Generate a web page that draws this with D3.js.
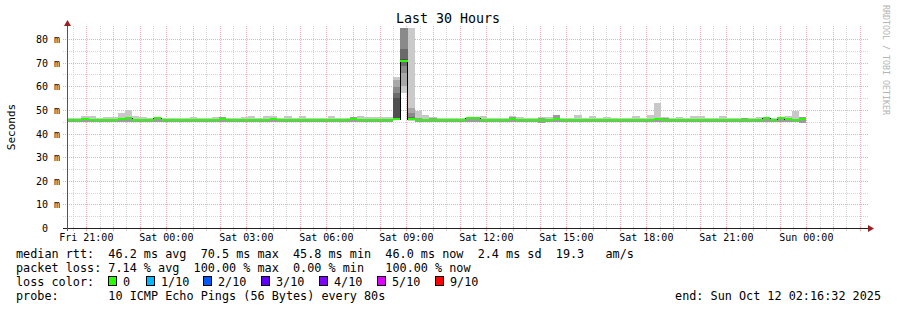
<!DOCTYPE html>
<html>
<head>
<meta charset="utf-8">
<script src="https://cdn.jsdelivr.net/npm/d3@7"></script>
<style>
  body { margin: 0; background: #fff; }
  svg { display: block; font-family: 'DejaVu Sans Mono', monospace; }
  text { white-space: pre; }
</style>
</head>
<body>
<div id="app"></div>
<script>
// time window of the graph
const start = new Date(2025, 9, 10, 20, 16, 32)
const end = new Date(2025, 9, 12, 2, 16, 32)
const dataEnd = new Date(2025, 9, 12, 0, 0, 0)

// median rtt per step (ms)
const median = [
  45.9, 45.9, 46.0, 45.9, 45.9, 45.9, 45.9, 46.0, 46.4, 45.9,
  45.9, 45.9, 46.4, 45.9, 45.9, 45.8, 45.9, 45.9, 45.9, 45.9,
  45.9, 46.0, 45.9, 45.9, 45.9, 45.9, 45.9, 45.9, 46.0, 45.9,
  45.9, 45.9, 45.9, 45.8, 45.9, 45.9, 45.9, 45.9, 45.9, 46.0,
  45.9, 45.9, 45.9, 45.9, 45.9, 46.0, 70.5, 46.0, 45.9, 45.9,
  45.9, 45.9, 45.9, 45.9, 45.9, 46.4, 46.4, 45.9, 45.9, 45.9,
  45.9, 46.0, 45.9, 45.9, 45.9, 45.9, 45.9, 46.0, 45.9, 45.9,
  45.9, 45.9, 45.9, 45.9, 45.9, 45.9, 45.8, 45.9, 45.9, 45.9,
  45.9, 46.0, 45.9, 45.9, 45.9, 45.9, 45.9, 45.9, 45.9, 45.9,
  45.9, 45.9, 45.9, 45.9, 45.9, 45.9, 46.4, 45.9, 46.4, 46.0,
  45.9, 46.0
]

// smoke: lowest ping, top of the dense part, highest ping (ms)
const smokeLo = [
  44.8, 44.8, 44.7, 44.8, 44.9, 44.8, 44.8, 44.7, 44.8, 44.8,
  44.9, 44.8, 44.8, 44.8, 44.7, 44.8, 44.8, 44.8, 44.9, 44.8,
  44.8, 44.8, 44.8, 44.7, 44.8, 44.8, 44.8, 44.8, 44.7, 44.8,
  44.8, 44.8, 44.8, 44.8, 44.8, 44.9, 44.8, 44.8, 44.8, 44.7,
  44.8, 44.8, 44.8, 44.8, 44.8, 45.6, 57.3, 45.5, 44.8, 44.8,
  44.7, 44.8, 44.8, 44.8, 44.8, 44.8, 44.8, 44.8, 44.9, 44.8,
  44.8, 44.7, 44.8, 44.8, 44.8, 44.6, 44.8, 44.7, 44.8, 44.8,
  44.8, 44.8, 44.8, 44.8, 44.8, 44.8, 44.8, 44.8, 44.8, 44.8,
  44.8, 44.7, 44.8, 44.8, 44.8, 44.8, 44.8, 44.8, 44.8, 44.8,
  44.8, 44.8, 44.8, 44.7, 44.8, 44.8, 44.8, 44.8, 44.8, 44.8,
  44.8, 44.6
]
const smokeDark = [
  46.0, 46.0, 46.1, 46.0, 46.0, 46.0, 46.0, 46.1, 46.4, 46.0,
  46.0, 46.0, 46.4, 46.0, 46.0, 45.9, 46.0, 46.0, 46.0, 46.0,
  46.0, 47.1, 46.0, 46.0, 46.0, 46.0, 46.0, 46.0, 46.6, 46.0,
  46.0, 46.0, 46.0, 45.9, 46.0, 46.0, 46.0, 46.0, 46.0, 47.0,
  46.0, 46.0, 46.0, 46.0, 46.0, 55.0, 71.5, 46.3, 46.6, 46.0,
  46.4, 46.0, 46.0, 46.0, 46.0, 46.4, 46.4, 46.0, 46.0, 46.0,
  46.0, 47.0, 46.0, 46.0, 46.0, 46.5, 46.0, 47.9, 46.0, 46.0,
  46.0, 46.0, 46.0, 46.0, 46.0, 46.0, 45.9, 46.0, 46.0, 46.0,
  46.0, 46.1, 46.5, 46.0, 46.0, 46.0, 46.0, 46.0, 46.0, 46.0,
  46.0, 46.0, 46.0, 46.4, 46.0, 46.0, 46.4, 46.0, 46.4, 46.1,
  46.0, 47.1
]
const smokeHi = [
  46.7, 46.7, 47.5, 47.5, 46.7, 47.1, 47.1, 48.8, 50.0, 47.5,
  47.1, 46.7, 46.7, 46.7, 46.7, 46.7, 46.7, 47.1, 46.7, 46.7,
  47.1, 47.1, 46.7, 46.7, 47.1, 47.5, 46.7, 47.5, 47.5, 46.7,
  47.5, 46.7, 47.5, 46.7, 46.7, 46.7, 47.5, 46.7, 46.7, 47.1,
  47.5, 46.9, 46.9, 46.9, 46.9, 64.0, 120.0, 120.0, 49.5, 47.8,
  46.9, 46.7, 46.7, 46.7, 46.7, 47.1, 47.1, 47.5, 46.7, 46.7,
  46.7, 47.5, 47.1, 46.7, 46.7, 46.9, 47.1, 47.9, 46.7, 46.7,
  47.9, 46.7, 47.5, 46.7, 47.1, 46.7, 46.7, 46.7, 47.5, 46.7,
  47.8, 52.8, 46.9, 46.7, 47.1, 46.7, 47.5, 47.5, 46.7, 46.7,
  47.5, 46.7, 46.7, 46.7, 46.7, 46.9, 46.9, 46.7, 46.9, 47.5,
  49.5, 47.1
]

// the outage steps, drawn from all 10 sorted pings
const spikeBins = [45, 46, 47]
const spikePings = [
  [45.6, 45.8, 45.9, 46.0, 46.0, 55.0, 57.3, 59.8, 62.6, 64.0],
  [57.3, 60.0, 65.6, 68.6, 70.3, 71.5, 75.8, 90.0, 100.0, 120.0],
  [45.5, 45.7, 45.8, 46.0, 46.1, 46.3, 46.8, 48.5, 51.0, 120.0]
]
const spikeShades = ['#cacaca', '#a8a8a8', '#8a8a8a', '#6a6a6a', '#505050']

const yTicks = [0, 10, 20, 30, 40, 50, 60, 70, 80]
const yLabels = ['0  ', '10 m', '20 m', '30 m', '40 m', '50 m', '60 m', '70 m', '80 m']

const lossLabels = ['0', '1/10', '2/10', '3/10', '4/10', '5/10', '9/10']
const lossColors = ['#26ff00', '#00b8ff', '#0059ff', '#5e00ff', '#7e00ff', '#dd00ff', '#ff0000']

const legendLines = [
  'median rtt:  46.2 ms avg  70.5 ms max  45.8 ms min  46.0 ms now  2.4 ms sd  19.3   am/s',
  'packet loss: 7.14 % avg  100.00 % max  0.00 % min   100.00 % now'
]

const w = 897
const h = 310
const plotL = 67, plotR = 867, plotT = 28, plotB = 228
const gridColor = '#d6d6d6'
const mgridColor = '#f3abab'
const arrowColor = '#9a2020'

const x = d3.scaleTime().domain([start, end]).range([plotL, plotR])
const y = d3.scaleLinear().domain([0, 84.66]).range([plotB, plotT])

const step = (dataEnd - start) / median.length
const bins = median.map((m, i) => ({
  i,
  t0: new Date(+start + i * step),
  t1: new Date(+start + (i + 1) * step),
  median: m,
  lo: smokeLo[i],
  dark: smokeDark[i],
  hi: smokeHi[i]
}))

const svg = d3.select('#app')
  .append('svg')
  .attr('width', w)
  .attr('height', h)

svg.append('defs').append('clipPath')
  .attr('id', 'plot')
  .append('rect')
  .attr('x', plotL).attr('y', plotT)
  .attr('width', plotR - plotL).attr('height', plotB - plotT)

// grid
const halfHours = d3.timeMinute.every(30).range(start, end).filter(d => d.getMinutes() === 30)
const hours = d3.timeHour.range(start, end)
const grid = svg.append('g').attr('shape-rendering', 'crispEdges')

grid.selectAll('.vminor')
  .data(halfHours)
  .enter()
  .append('line')
  .attr('x1', d => Math.round(x(d)) + 0.5).attr('x2', d => Math.round(x(d)) + 0.5)
  .attr('y1', 26).attr('y2', 231)
  .attr('stroke', gridColor)
  .attr('stroke-dasharray', '1,1')

grid.selectAll('.vmajor')
  .data(hours)
  .enter()
  .append('line')
  .attr('x1', d => Math.round(x(d)) + 0.5).attr('x2', d => Math.round(x(d)) + 0.5)
  .attr('y1', 26).attr('y2', 231)
  .attr('stroke', mgridColor)
  .attr('stroke-dasharray', '1,1')

grid.selectAll('.hminor')
  .data(d3.range(5, 85, 10))
  .enter()
  .append('line')
  .attr('x1', 63).attr('x2', 868)
  .attr('y1', d => Math.round(y(d)) + 0.5).attr('y2', d => Math.round(y(d)) + 0.5)
  .attr('stroke', gridColor)
  .attr('stroke-dasharray', '1,1')

grid.selectAll('.hmajor')
  .data(yTicks.slice(1))
  .enter()
  .append('line')
  .attr('x1', 63).attr('x2', 868)
  .attr('y1', d => Math.round(y(d)) + 0.5).attr('y2', d => Math.round(y(d)) + 0.5)
  .attr('stroke', mgridColor)
  .attr('stroke-dasharray', '1,1')

// smoke
const plot = svg.append('g')
  .attr('clip-path', 'url(#plot)')
  .attr('shape-rendering', 'crispEdges')

const normal = bins.filter(d => !spikeBins.includes(d.i))

plot.selectAll('.smoke')
  .data(normal)
  .enter()
  .append('rect')
  .attr('x', d => x(d.t0))
  .attr('width', d => x(d.t1) - x(d.t0))
  .attr('y', d => y(d.hi))
  .attr('height', d => y(d.lo) - y(d.hi))
  .attr('fill', '#c8c8c8')

plot.selectAll('.dense')
  .data(normal)
  .enter()
  .append('rect')
  .attr('x', d => x(d.t0))
  .attr('width', d => x(d.t1) - x(d.t0))
  .attr('y', d => y(d.dark))
  .attr('height', d => y(d.lo) - y(d.dark))
  .attr('fill', '#9c9c9c')

spikeBins.forEach((b, k) => {
  const pings = spikePings[k]
  const d = bins[b]
  for (let p = 0; p < 5; p++) {
    plot.append('rect')
      .attr('x', x(d.t0))
      .attr('width', x(d.t1) - x(d.t0))
      .attr('y', y(pings[9 - p]))
      .attr('height', y(pings[p]) - y(pings[9 - p]))
      .attr('fill', spikeShades[p])
  }
})

// median line, black step underneath, loss coloured on top
const steps = bins.map(d => [d.t0, d.median])
steps.push([bins[bins.length - 1].t1, bins[bins.length - 1].median])

plot.append('path')
  .datum(steps)
  .attr('fill', 'none')
  .attr('stroke', '#000')
  .attr('stroke-width', 1)
  .attr('d', d3.line().x(d => x(d[0])).y(d => y(d[1])).curve(d3.curveStepAfter))

plot.selectAll('.med')
  .data(bins)
  .enter()
  .append('line')
  .attr('x1', d => x(d.t0)).attr('x2', d => x(d.t1))
  .attr('y1', d => y(d.median)).attr('y2', d => y(d.median))
  .attr('stroke', lossColors[0])
  .attr('stroke-width', 2)

// axes
const axes = svg.append('g').attr('shape-rendering', 'crispEdges')

axes.selectAll('.xtickmin')
  .data(halfHours)
  .enter()
  .append('line')
  .attr('x1', d => Math.round(x(d)) + 0.5).attr('x2', d => Math.round(x(d)) + 0.5)
  .attr('y1', 226).attr('y2', 231)
  .attr('stroke', gridColor)

axes.selectAll('.xtickmaj')
  .data(hours)
  .enter()
  .append('line')
  .attr('x1', d => Math.round(x(d)) + 0.5).attr('x2', d => Math.round(x(d)) + 0.5)
  .attr('y1', 226).attr('y2', 231)
  .attr('stroke', mgridColor)

axes.append('line')
  .attr('x1', 63).attr('x2', 869)
  .attr('y1', plotB + 0.5).attr('y2', plotB + 0.5)
  .attr('stroke', '#222')

axes.append('line')
  .attr('x1', plotL + 0.5).attr('x2', plotL + 0.5)
  .attr('y1', 231).attr('y2', 24)
  .attr('stroke', '#555')

svg.append('path')
  .attr('d', `M${plotL - 3},26 L${plotL + 4},26 L${plotL + 0.5},20 Z`)
  .attr('fill', arrowColor)

svg.append('path')
  .attr('d', `M868,${plotB - 3} L868,${plotB + 4} L874,${plotB + 0.5} Z`)
  .attr('fill', arrowColor)

// tick labels
svg.selectAll('.ylab')
  .data(yTicks)
  .enter()
  .append('text')
  .attr('x', 60)
  .attr('y', d => y(d) + 4)
  .attr('text-anchor', 'end')
  .attr('font-size', '10px')
  .attr('xml:space', 'preserve')
  .text((d, i) => yLabels[i])

const xLabelTimes = d3.timeHour.every(3).range(start, end)
const fmt = d3.timeFormat('%a %H:%M')
svg.selectAll('.xlab')
  .data(xLabelTimes)
  .enter()
  .append('text')
  .attr('x', d => x(d))
  .attr('y', 241)
  .attr('text-anchor', 'middle')
  .attr('font-size', '10px')
  .text(d => fmt(d))

// titles
svg.append('text')
  .attr('x', 448)
  .attr('y', 23)
  .attr('text-anchor', 'middle')
  .attr('font-size', '13.3px')
  .text('Last 30 Hours')

svg.append('text')
  .attr('transform', 'translate(15,127) rotate(-90)')
  .attr('text-anchor', 'middle')
  .attr('font-size', '11px')
  .text('Seconds')

svg.append('text')
  .attr('transform', 'translate(883,5) rotate(90)')
  .attr('font-size', '8.3px')
  .attr('fill', '#b4b4b4')
  .text('RRDTOOL / TOBI OETIKER')

// legend
const legendFont = '11.8px'
legendLines.forEach((line, i) => {
  svg.append('text')
    .attr('x', 16)
    .attr('y', 258 + i * 14)
    .attr('font-size', legendFont)
    .attr('xml:space', 'preserve')
    .text(line)
})

svg.append('text')
  .attr('x', 16)
  .attr('y', 286)
  .attr('font-size', legendFont)
  .text('loss color:')

const boxX = [108, 146, 203, 261, 319, 377, 435]
lossLabels.forEach((lab, i) => {
  svg.append('rect')
    .attr('x', boxX[i] + 0.5)
    .attr('y', 276.5)
    .attr('width', 8)
    .attr('height', 9)
    .attr('fill', lossColors[i])
    .attr('stroke', '#000')
    .attr('stroke-width', 1)
  svg.append('text')
    .attr('x', boxX[i] + 15)
    .attr('y', 286)
    .attr('font-size', legendFont)
    .text(lab)
})

svg.append('text')
  .attr('x', 16)
  .attr('y', 300)
  .attr('font-size', legendFont)
  .attr('xml:space', 'preserve')
  .text('probe:       10 ICMP Echo Pings (56 Bytes) every 80s')

svg.append('text')
  .attr('x', 881)
  .attr('y', 300)
  .attr('text-anchor', 'end')
  .attr('font-size', legendFont)
  .text('end: Sun Oct 12 02:16:32 2025')
</script>
</body>
</html>
